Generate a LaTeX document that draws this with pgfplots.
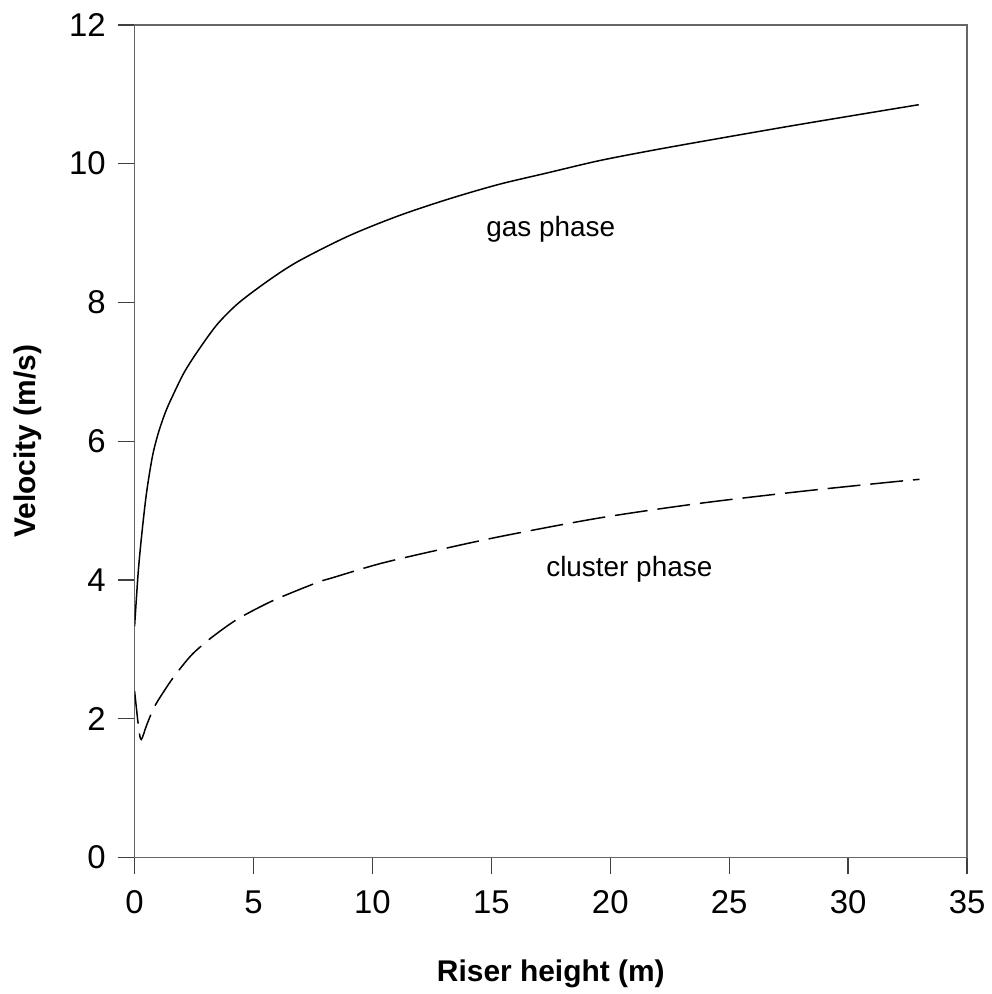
\documentclass[border=0pt]{standalone}
\usepackage{fontspec}
\setmainfont{Liberation Sans}
\usepackage{pgfplots}
\pgfplotsset{compat=1.18}
\begin{document}
\begin{tikzpicture}
\begin{axis}[
    scale only axis, width=417.5pt, height=417.5pt,
    xmin=0, xmax=35, ymin=0, ymax=12,
    xtick={0,5,...,35}, ytick={0,2,...,12},
    tick pos=left, tick align=outside, major tick length=8.5pt,
    axis line style={draw=black!60, line width=0.65pt},
    tick style={draw=black!75, line width=0.65pt},
    /pgf/number format/assume math mode=true,
    ticklabel style={font=\fontsize{16.5}{19}\selectfont},
    xticklabel style={yshift=-4.5pt},
    yticklabel style={xshift=-2.5pt},
    xlabel={Riser height (m)}, ylabel={Velocity (m/s)},
    label style={font=\bfseries\fontsize{15}{18}\selectfont},
    xlabel style={at={(axis description cs:0.5,-0.1485)}, anchor=base},
    ylabel style={at={(axis description cs:-0.128,0.5)}, anchor=center},
]
% gas phase
\addplot[black, line width=0.75pt, smooth] coordinates {
    (0,3.33)(0.15,4.10)(0.30,4.65)(0.50,5.25)(0.75,5.78)(1.00,6.12)
    (1.30,6.42)(1.61,6.66)(2.10,7.00)(2.72,7.33)(3.49,7.69)(4.40,8.00)
    (5.73,8.34)(6.92,8.60)(9.01,8.96)(11.11,9.25)(13.20,9.49)(15.30,9.70)
    (17.39,9.87)(19.49,10.04)(21.58,10.18)(23.68,10.31)(27.87,10.56)(32.97,10.85)};
% cluster phase
\addplot[black, line width=0.75pt, smooth, tension=0.5, dash pattern=on 16.5pt off 5pt] coordinates {
    (0,2.40)(0.17,1.87)(0.28,1.70)(0.5,1.90)(0.8,2.15)(1.15,2.35)
    (1.6,2.58)(2.17,2.83)(2.55,2.97)(3.2,3.16)(3.91,3.34)(4.4,3.45)
    (5.1,3.58)(5.87,3.71)(6.92,3.86)(7.82,3.98)(8.31,4.03)(10.27,4.23)
    (12.36,4.40)(15.30,4.62)(19.49,4.89)(23.68,5.10)
    (27.87,5.27)(31.5,5.40)(33,5.45)};
\node[font=\fontsize{14}{17}\selectfont] at (axis cs:17.5,9.05) {gas phase};
\node[font=\fontsize{14}{17}\selectfont] at (axis cs:20.8,4.15) {cluster phase};
\coordinate (SW) at (rel axis cs:0,0);
\coordinate (NE) at (rel axis cs:1,1);
\end{axis}
\path ([shift={(-67.5pt,-66.5pt)}]SW) rectangle ([shift={(12pt,12.5pt)}]NE);
\end{tikzpicture}
\end{document}
